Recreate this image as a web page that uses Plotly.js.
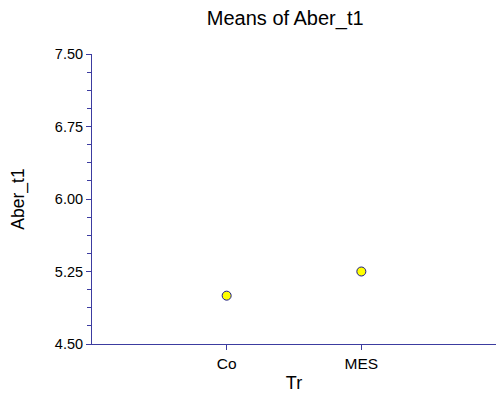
<!DOCTYPE html>
<html><head><meta charset="utf-8">
<script src="https://cdn.plot.ly/plotly-3.0.1.min.js"></script>
<style>body{margin:0;padding:0;background:#fff}#c{width:496px;height:394px}</style>
</head><body><div id="c"></div>
<script>
var categories = ["Co", "MES"];
var means = [5.0, 5.25];
var axisColor = "#3c3ca0";
var trace = {
  x: categories, y: means, type: "scatter", mode: "markers",
  marker: {color: "#ffff00", size: 9, line: {color: "#1a1a8c", width: 1}},
  hoverinfo: "skip", showlegend: false
};
var layout = {
  width: 496, height: 394,
  margin: {l: 92, r: 0, t: 54, b: 50},
  paper_bgcolor: "#fff", plot_bgcolor: "#fff",
  font: {family: "Liberation Sans, Arial, sans-serif", size: 14.5, color: "#000"},
  title: {text: "Means of Aber_t1", font: {size: 20, color: "#000"}, x: 0.575, xanchor: "center", y: 0.954, yanchor: "middle", xref: "container", yref: "container"},
  xaxis: {
    type: "category", range: [-1, 2], showgrid: false, zeroline: false,
    showline: true, linecolor: axisColor, linewidth: 1,
    ticks: "outside", ticklen: 5, tickcolor: axisColor,
    tickfont: {size: 15.5},
    title: {text: "Tr", font: {size: 18}, standoff: 5}
  },
  yaxis: {
    range: [4.5, 7.5], dtick: 0.75, tick0: 4.5, tickformat: ".2f",
    showgrid: false, zeroline: false,
    showline: true, linecolor: axisColor, linewidth: 1,
    ticks: "outside", ticklen: 5, tickcolor: axisColor,
    tickfont: {size: 14.5},
    minor: {dtick: 0.1875, tick0: 4.5, ticks: "outside", ticklen: 4, tickcolor: axisColor, showgrid: false},
    title: {text: "Aber_t1", font: {size: 17.5}, standoff: 25}
  }
};
Plotly.newPlot("c", [trace], layout, {staticPlot: true, displayModeBar: false});
</script></body></html>
